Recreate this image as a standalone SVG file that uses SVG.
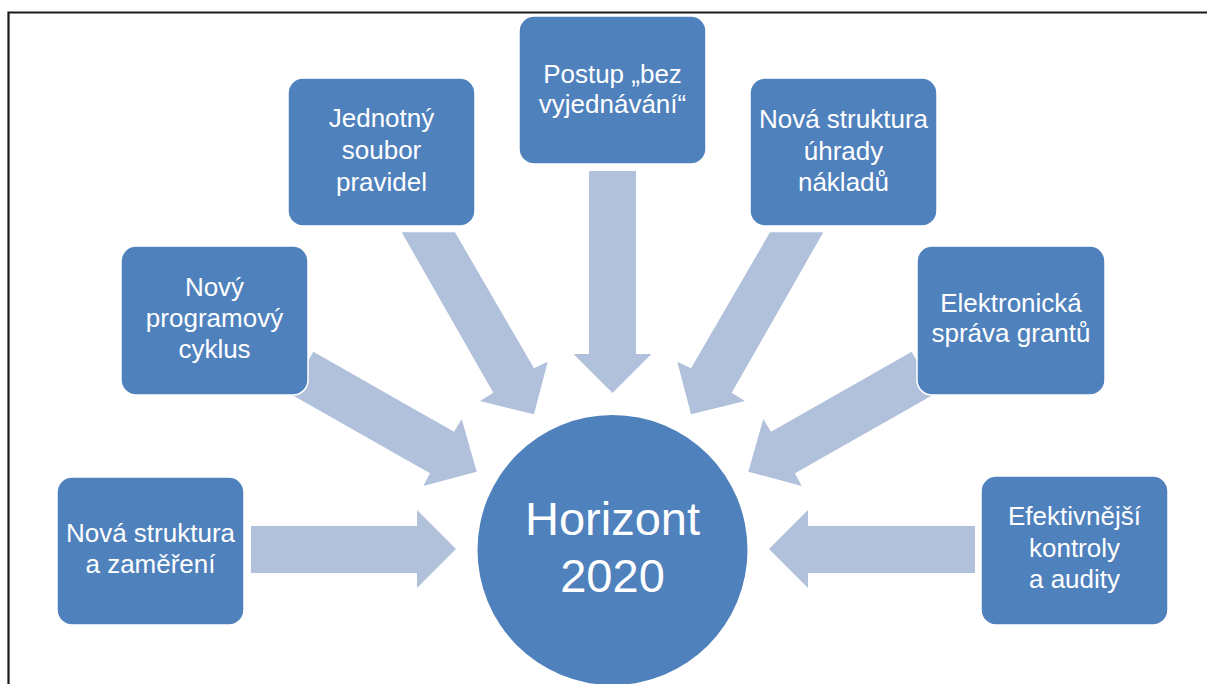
<svg xmlns="http://www.w3.org/2000/svg" width="1207" height="684" viewBox="0 0 1207 684">
<style>
.frame{fill:none;stroke:#1a1a1a;stroke-width:2.2}
.arrow{fill:#B1C1DC;stroke:none}
.box{fill:#4F81BD;stroke:#ffffff;stroke-width:1.5}
.lbl{font-family:"Liberation Sans",Arial,sans-serif;font-size:26px;fill:#ffffff;text-anchor:middle}
.big{font-family:"Liberation Sans",Arial,sans-serif;font-size:47px;fill:#ffffff;text-anchor:middle}
</style>
<rect width="1207" height="684" fill="#ffffff"/>
<path class="frame" d="M8.5,700 V12.5 H1215"/>
<g id="connectors">
  <polygon class="arrow" points="251,526 417,526 417,510 456,549 417,588 417,573 251,573"/>
  <polygon class="arrow" points="975,526 808,526 808,510 769,549 808,588 808,573 975,573"/>
  <polygon class="arrow" points="313.3,351.7 454,431.7 461.7,419 476.7,471.7 423.3,486 430,473.3 289.5,393.4"/>
  <polygon class="arrow" points="911.7,351.7 771,431.7 763.3,419 748.3,471.7 801.7,486 795,473.3 935.5,393.4"/>
  <polygon class="arrow" points="401.7,232.3 455,232.3 534,368.3 547.7,361.7 534,414.3 480,401 493.3,392.7"/>
  <polygon class="arrow" points="823.3,232.3 770,232.3 691,368.3 677.3,361.7 691,414.3 745,401 731.7,392.7"/>
  <polygon class="arrow" points="589,171 636,171 636,354 651.5,354 612.5,393 573.5,354 589,354"/>
</g>
<g id="node-struktura">
  <rect class="box" x="57" y="477" width="187" height="148" rx="15"/>
  <text class="lbl" x="150.5" y="542">Nová struktura</text>
  <text class="lbl" x="150.5" y="573">a zaměření</text>
</g>
<g id="node-cyklus">
  <rect class="box" x="121" y="246" width="187" height="149" rx="15"/>
  <text class="lbl" x="214.5" y="296">Nový</text>
  <text class="lbl" x="214.5" y="327">programový</text>
  <text class="lbl" x="214.5" y="358">cyklus</text>
</g>
<g id="node-pravidla">
  <rect class="box" x="288" y="78" width="187" height="148" rx="15"/>
  <text class="lbl" x="381.5" y="127">Jednotný</text>
  <text class="lbl" x="381.5" y="159">soubor</text>
  <text class="lbl" x="381.5" y="191">pravidel</text>
</g>
<g id="node-postup">
  <rect class="box" x="519" y="16" width="187" height="148" rx="15"/>
  <text class="lbl" x="612.5" y="83">Postup „bez</text>
  <text class="lbl" x="612.5" y="113">vyjednávání“</text>
</g>
<g id="node-uhrady">
  <rect class="box" x="750" y="78" width="187" height="148" rx="15"/>
  <text class="lbl" x="843.5" y="128">Nová struktura</text>
  <text class="lbl" x="843.5" y="160">úhrady</text>
  <text class="lbl" x="843.5" y="191">nákladů</text>
</g>
<g id="node-granty">
  <rect class="box" x="917" y="246" width="188" height="149" rx="15"/>
  <text class="lbl" x="1011" y="312">Elektronická</text>
  <text class="lbl" x="1011" y="342">správa grantů</text>
</g>
<g id="node-kontroly">
  <rect class="box" x="981" y="476" width="187" height="149" rx="15"/>
  <text class="lbl" x="1074.5" y="525">Efektivnější</text>
  <text class="lbl" x="1074.5" y="557">kontroly</text>
  <text class="lbl" x="1074.5" y="588">a audity</text>
</g>
<g id="node-horizont">
  <circle cx="612.5" cy="550" r="135" fill="#4F81BD"/>
  <text class="big" x="612.5" y="535">Horizont</text>
  <text class="big" x="612.5" y="592">2020</text>
</g>
</svg>
